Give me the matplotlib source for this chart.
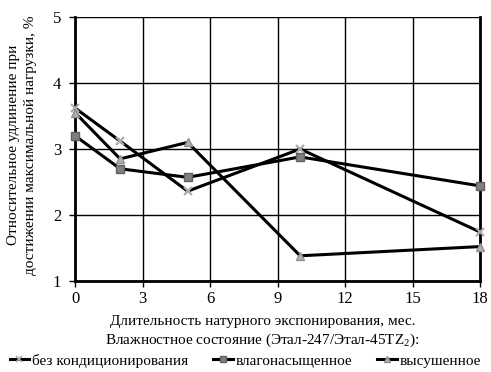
import matplotlib
matplotlib.use("Agg")
import matplotlib.pyplot as plt
from matplotlib.lines import Line2D

plt.rcParams['font.family'] = ['Liberation Serif', 'DejaVu Serif']
plt.rcParams['mathtext.fontset'] = 'custom'
plt.rcParams['mathtext.rm'] = 'Liberation Serif'

months = [0, 2, 5, 10, 18]
s_none = [3.62, 3.12, 2.36, 3.0, 1.74]
s_wet = [3.2, 2.7, 2.57, 2.88, 2.44]
s_dry = [3.55, 2.85, 3.1, 1.38, 1.52]
labels = ['без кондиционирования', 'влагонасыщенное', 'высушенное']
xticks = [0, 3, 6, 9, 12, 15, 18]
yticks = [1, 2, 3, 4, 5]

fig = plt.figure(figsize=(4.91, 3.72), dpi=100)
ax = fig.add_axes([0.153, 0.245, 0.825, 0.709])

ax.plot(months, s_none, color='black', lw=2.2, marker='x', ms=6, mec='#aaaaaa', mew=1.5, label=labels[0], zorder=3, clip_on=False)
ax.plot(months, s_wet, color='black', lw=2.2, marker='s', ms=6, mfc='#808080', mec='#606060', label=labels[1], zorder=3, clip_on=False)
ax.plot(months, s_dry, color='black', lw=2.2, marker='^', ms=6, mfc='#b0b0b0', mec='#909090', label=labels[2], zorder=3, clip_on=False)

ax.set_xlim(0, 18)
ax.set_ylim(1, 5)
ax.set_xticks(xticks)
ax.set_yticks(yticks)
ax.grid(True, color='black', lw=1.0)
ax.spines['top'].set_visible(False)
ax.spines['left'].set_linewidth(2)
ax.spines['right'].set_linewidth(2)
ax.spines['bottom'].set_linewidth(2)
ax.tick_params(labelsize=12, length=4, width=1)
ax.tick_params(axis='y', pad=6)
ax.set_axisbelow(True)

fig.text(0.045, 0.61, 'Относительное удлинение при\nдостижении максимальной нагрузки, %',
         rotation=90, ha='center', va='center', fontsize=11, linespacing=1.35)
fig.text(0.535, 0.108, 'Длительность натурного экспонирования, мес.\nВлажностное состояние (Этал-247/Этал-45TZ$_\\mathregular{2}$):',
         ha='center', va='center', fontsize=11, linespacing=1.3)

handles = [
    Line2D([], [], color='black', lw=2.2, marker='x', ms=5, mec='#aaaaaa', mew=1.2),
    Line2D([], [], color='black', lw=2.2, marker='s', ms=5, mfc='#808080', mec='#606060'),
    Line2D([], [], color='black', lw=2.2, marker='^', ms=5, mfc='#b0b0b0', mec='#909090'),
]
fig.legend(handles, labels, loc='center', bbox_to_anchor=(0.5, 0.03), ncol=3, frameon=False,
           fontsize=11, handlelength=1.3, handletextpad=0.2, columnspacing=1.6)

fig.savefig('out.png', dpi=100)
